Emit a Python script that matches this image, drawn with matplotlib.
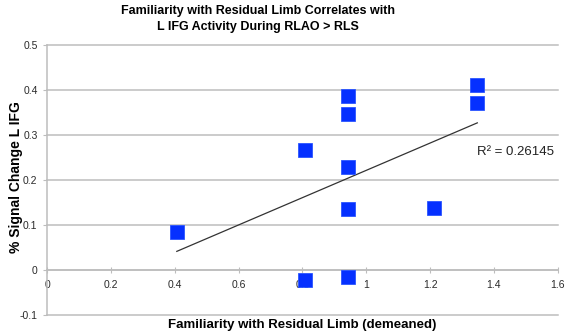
import numpy as np
import matplotlib.pyplot as plt

plt.rcParams['font.family'] = ['Liberation Sans', 'DejaVu Sans']

# familiarity (demeaned) vs % signal change
familiarity = [0.406, 0.808, 0.808, 0.944, 0.944, 0.944, 0.944, 0.944, 1.213, 1.348, 1.348]
signal = [0.0836, 0.266, -0.0222, 0.386, 0.347, 0.228, 0.135, -0.0148, 0.138, 0.410, 0.370]
x_ticks = [0, 0.2, 0.4, 0.6, 0.8, 1.0, 1.2, 1.4, 1.6]
x_tick_labels = ['0', '0.2', '0.4', '0.6', '0.8', '1', '1.2', '1.4', '1.6']
y_ticks = [-0.1, 0, 0.1, 0.2, 0.3, 0.4, 0.5]
y_tick_labels = ['-0.1', '0', '0.1', '0.2', '0.3', '0.4', '0.5']
r2_label = 'R² = 0.26145'

fig = plt.figure(figsize=(5.67, 3.36), dpi=100)
ax = fig.add_axes([0.0834, 0.0625, 0.9002, 0.8045])

grid_col = '#bdbdbd'
ax.set_xlim(0, 1.6)
ax.set_ylim(-0.1, 0.5)
ax.set_yticks(y_ticks)
ax.set_yticklabels(y_tick_labels)
ax.set_xticks(x_ticks)
ax.set_xticklabels(x_tick_labels)
ax.yaxis.grid(True, color=grid_col, linewidth=1.1)
for gl in ax.yaxis.get_gridlines():
    gl.set_clip_on(False)
ax.set_axisbelow(True)

for side in ['top', 'right']:
    ax.spines[side].set_visible(False)
ax.spines['left'].set_color(grid_col)
ax.spines['left'].set_linewidth(1.1)
ax.spines['bottom'].set_position(('data', 0))
ax.spines['bottom'].set_color(grid_col)
ax.spines['bottom'].set_linewidth(1.1)

ax.tick_params(axis='y', length=3, color=grid_col, labelsize=7.5, pad=4, labelcolor='#2a2a2a')
ax.tick_params(axis='x', direction='inout', length=5, color=grid_col, labelsize=7.5, pad=5,
               labelcolor='#2a2a2a')

# trend line from least squares fit
slope, intercept = np.polyfit(familiarity, signal, 1)
xs = np.array([min(familiarity), max(familiarity)])
ax.plot(xs, slope * xs + intercept, color='#333333', linewidth=0.9, zorder=3)

ax.plot(familiarity, signal, 's', markersize=9.4, color='#0530ff',
        markeredgecolor='#2a55ff', markeredgewidth=0.6, zorder=4, clip_on=False)

ax.text(1.347, 0.262, r2_label, fontsize=9.5, color='#222222', va='center', ha='left')

fig.text(302 / 567, 1 - 325 / 336, 'Familiarity with Residual Limb (demeaned)',
         ha='center', va='center', fontsize=9.5, fontweight='bold')
fig.text(16 / 567, 1 - 177 / 336, '% Signal Change L IFG', rotation=90,
         ha='center', va='center', fontsize=10, fontweight='bold')

fig.text(258 / 567, 0.985, 'Familiarity with Residual Limb Correlates with\nL IFG Activity During RLAO > RLS',
         ha='center', va='top', fontsize=9, fontweight='bold', linespacing=1.42)

fig.savefig('out.png', dpi=100)
